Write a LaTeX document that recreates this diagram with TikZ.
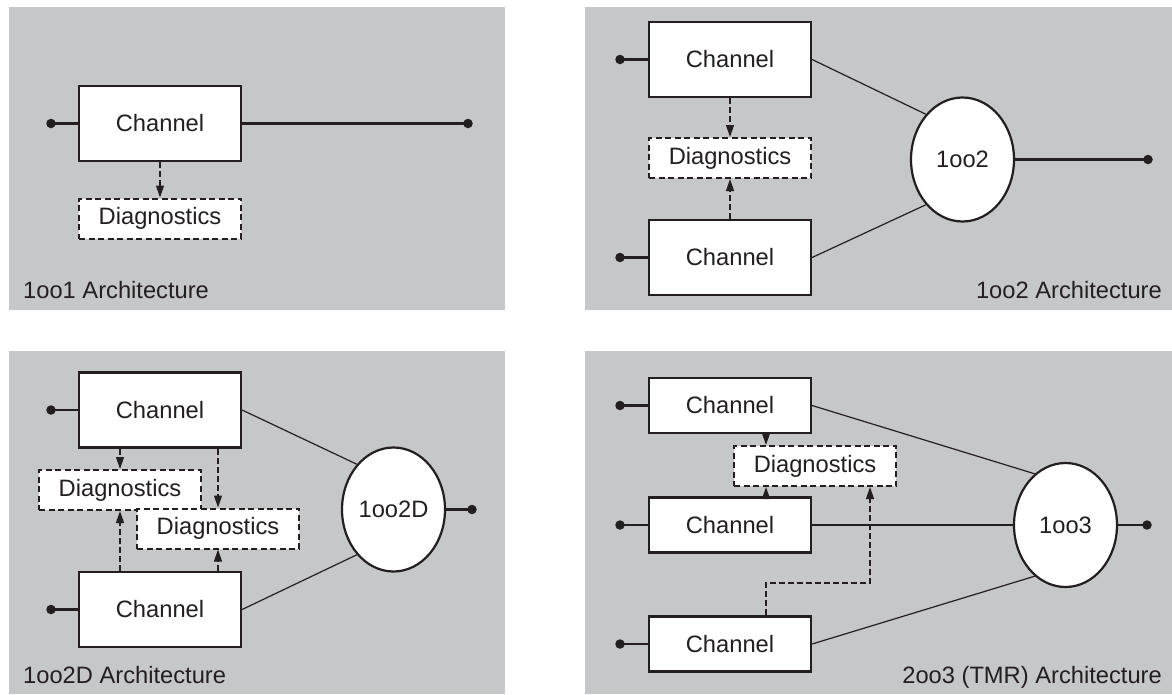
\documentclass[tikz,border=0pt]{standalone}
\usepackage{fontspec}
\setmainfont{Liberation Sans}
\usetikzlibrary{shapes.geometric,arrows.meta}
\definecolor{panelgray}{HTML}{C6C7C9}
\definecolor{ink}{HTML}{231F20}
\tikzset{
  panel/.style={fill=panelgray, draw=none},
  chbox/.style={draw=ink, fill=white, line width=2.2pt, minimum width=162pt, minimum height=#1, inner sep=0pt, text=ink, font=\fontsize{23.7}{28}\selectfont},
  chbox/.default=75pt,
  diagbox/.style={draw=ink, fill=white, line width=2pt, dash pattern=on 6pt off 3.5pt, minimum width=162pt, minimum height=40pt, inner sep=0pt, text=ink, font=\fontsize{23.7}{28}\selectfont},
  voter/.style={ellipse, draw=ink, fill=white, line width=2.2pt, minimum width=103pt, minimum height=124pt, inner sep=0pt, text=ink, font=\fontsize{23.7}{28}\selectfont},
  dot/.style={circle, fill=ink, minimum size=9.5pt, inner sep=0pt},
  lead/.style={draw=ink, line width=2.2pt},
  thinline/.style={draw=ink, line width=1.2pt},
  diagarrow/.style={draw=ink, line width=1.2pt, dash pattern=on 6pt off 3pt, -{Stealth[length=12pt,width=8pt,inset=0pt]}},
  caption/.style={text=ink, font=\fontsize{23.7}{28}\selectfont, inner sep=0pt},
}
\begin{document}
\begin{tikzpicture}[x=1pt, y=-1pt]
\useasboundingbox (0,0) rectangle (1172,694);
% panels
\fill[panel] (9,7) rectangle (505,310);
\fill[panel] (585,7) rectangle (1172,310);
\fill[panel] (9,351) rectangle (505,694);
\fill[panel] (585,351) rectangle (1172,694);

% ---------- 1oo1 ----------
\node[chbox] (a_ch) at (160,123.5) {Channel};
\node[diagbox] (a_dg) at (160,218.5) {Diagnostics};
\node[dot] (a_in) at (51,123.5) {};
\node[dot] (a_out) at (468,123.5) {};
\draw[lead] (a_in.center) -- (a_ch.west);
\draw[lead] (a_ch.east) -- (a_out.center);
\draw[diagarrow] (a_ch.south) -- (a_dg.north);
\node[caption, anchor=base west] (a_cap) at (23,298) {1oo1 Architecture};

% ---------- 1oo2 ----------
\node[chbox] (b_ch1) at (730,59.5) {Channel};
\node[chbox] (b_ch2) at (730,257.5) {Channel};
\node[diagbox] (b_dg) at (730,158) {Diagnostics};
\node[voter] (b_v) at (962.5,159.5) {1oo2};
\node[dot] (b_in1) at (620,59.5) {};
\node[dot] (b_in2) at (620,257.5) {};
\node[dot] (b_out) at (1148,159.5) {};
\draw[lead] (b_in1.center) -- (b_ch1.west);
\draw[lead] (b_in2.center) -- (b_ch2.west);
\draw[lead] (b_v.east) -- (b_out.center);
\draw[thinline] (b_ch1.east) -- (b_v.129);
\draw[thinline] (b_ch2.east) -- (b_v.231);
\draw[diagarrow] (b_ch1.south) -- (b_dg.north);
\draw[diagarrow] (b_ch2.north) -- (b_dg.south);
\node[caption, anchor=base east] (b_cap) at (1162,298) {1oo2 Architecture};

% ---------- 1oo2D ----------
\node[chbox] (c_ch1) at (160,410) {Channel};
\node[chbox] (c_ch2) at (160,609.5) {Channel};
\node[diagbox] (c_dg1) at (120,490) {Diagnostics};
\node[diagbox] (c_dg2) at (218,528.5) {Diagnostics};
\node[voter] (c_v) at (393.5,509.5) {1oo2D};
\node[dot] (c_in1) at (51,410) {};
\node[dot] (c_in2) at (51,609.5) {};
\node[dot] (c_out) at (472,509.5) {};
\draw[lead] (c_in1.center) -- (c_ch1.west);
\draw[lead] (c_in2.center) -- (c_ch2.west);
\draw[lead] (c_v.east) -- (c_out.center);
\draw[thinline] (c_ch1.east) -- (c_v.129);
\draw[thinline] (c_ch2.east) -- (c_v.231);
\draw[diagarrow] (c_dg1.north |- c_ch1.south) -- (c_dg1.north);
\draw[diagarrow] (c_dg1.south |- c_ch2.north) -- (c_dg1.south);
\draw[diagarrow] (c_dg2.north |- c_ch1.south) -- (c_dg2.north);
\draw[diagarrow] (c_dg2.south |- c_ch2.north) -- (c_dg2.south);
\node[caption, anchor=base west] (c_cap) at (23,683) {1oo2D Architecture};

% ---------- 2oo3 ----------
\node[chbox=55pt] (d_ch1) at (730,405.5) {Channel};
\node[chbox=55pt] (d_ch2) at (730,525) {Channel};
\node[chbox=55pt] (d_ch3) at (730,644) {Channel};
\node[diagbox] (d_dg) at (815,466) {Diagnostics};
\node[voter] (d_v) at (1065.5,525) {1oo3};
\node[dot] (d_in1) at (620,405.5) {};
\node[dot] (d_in2) at (620,525) {};
\node[dot] (d_in3) at (620,644) {};
\node[dot] (d_out) at (1147,525) {};
\coordinate (d_xa) at (766,0);
\coordinate (d_bend1) at (766,583);
\coordinate (d_bend2) at (870,583);
\draw[lead] (d_in1.center) -- (d_ch1.west);
\draw[lead] (d_in2.center) -- (d_ch2.west);
\draw[lead] (d_in3.center) -- (d_ch3.west);
\draw[lead] (d_v.east) -- (d_out.center);
\draw[thinline] (d_ch1.east) -- (d_v.121);
\draw[thinline] (d_ch2.east) -- (d_v.west);
\draw[thinline] (d_ch3.east) -- (d_v.239);
\draw[diagarrow] (d_ch1.south -| d_xa) -- (d_dg.north -| d_xa);
\draw[diagarrow] (d_ch2.north -| d_xa) -- (d_dg.south -| d_xa);
\draw[diagarrow] (d_ch3.north -| d_xa) -- (d_bend1) -- (d_bend2) -- (d_dg.south -| d_bend2);
\node[caption, anchor=base east] (d_cap) at (1162,683) {2oo3 (TMR) Architecture};
\end{tikzpicture}
\end{document}
